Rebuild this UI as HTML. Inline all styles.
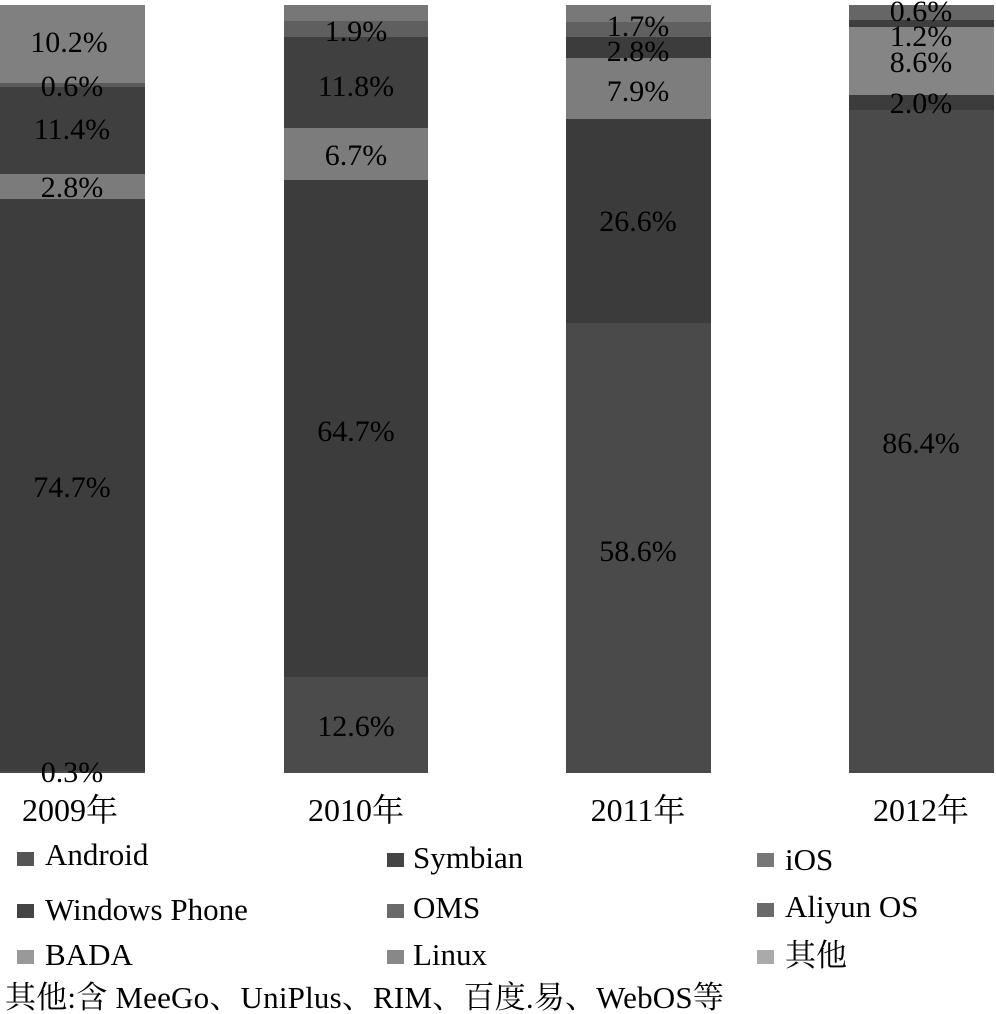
<!DOCTYPE html>
<html><head><meta charset="utf-8"><style>
html,body{margin:0;padding:0;background:#fff;}
#c{position:relative;width:996px;height:1014px;overflow:hidden;background:#fff;font-family:"Liberation Serif","Noto Serif CJK SC","Noto Sans CJK SC",serif;color:#000;}
.s{position:absolute;}
.t{position:absolute;font-size:30px;line-height:30px;white-space:nowrap;text-align:center;width:200px;}
.y{position:absolute;font-size:32px;line-height:32px;white-space:nowrap;text-align:center;width:200px;}
.l{position:absolute;font-size:31px;line-height:31px;white-space:nowrap;}
.q{position:absolute;width:17px;height:14px;}
</style></head><body><div id="c">
<!-- Bar 1 -->
<div class="s" style="left:0;top:5px;width:145px;height:78px;background:#808080"></div>
<div class="s" style="left:0;top:83px;width:145px;height:4px;background:#5a5a5a"></div>
<div class="s" style="left:0;top:87px;width:145px;height:87px;background:#3f3f3f"></div>
<div class="s" style="left:0;top:174px;width:145px;height:25px;background:#7b7b7b"></div>
<div class="s" style="left:0;top:199px;width:145px;height:572px;background:#3d3d3d"></div>
<div class="s" style="left:0;top:771px;width:145px;height:2px;background:#4a4a4a"></div>
<!-- Bar 2 -->
<div class="s" style="left:284px;top:5px;width:144px;height:16px;background:#777"></div>
<div class="s" style="left:284px;top:21px;width:144px;height:16px;background:#5f5f5f"></div>
<div class="s" style="left:284px;top:37px;width:144px;height:91px;background:#404040"></div>
<div class="s" style="left:284px;top:128px;width:144px;height:52px;background:#7c7c7c"></div>
<div class="s" style="left:284px;top:180px;width:144px;height:497px;background:#3c3c3c"></div>
<div class="s" style="left:284px;top:677px;width:144px;height:96px;background:#4b4b4b"></div>
<!-- Bar 3 -->
<div class="s" style="left:566px;top:5px;width:145px;height:17px;background:#787878"></div>
<div class="s" style="left:566px;top:22px;width:145px;height:15px;background:#606060"></div>
<div class="s" style="left:566px;top:37px;width:145px;height:21px;background:#3c3c3c"></div>
<div class="s" style="left:566px;top:58px;width:145px;height:61px;background:#7d7d7d"></div>
<div class="s" style="left:566px;top:119px;width:145px;height:204px;background:#3b3b3b"></div>
<div class="s" style="left:566px;top:323px;width:145px;height:450px;background:#4a4a4a"></div>
<!-- Bar 4 -->
<div class="s" style="left:849px;top:5px;width:145px;height:15px;background:#666"></div>
<div class="s" style="left:849px;top:20px;width:145px;height:7px;background:#3e3e3e"></div>
<div class="s" style="left:849px;top:27px;width:145px;height:68px;background:#858585"></div>
<div class="s" style="left:849px;top:95px;width:145px;height:15px;background:#3c3c3c"></div>
<div class="s" style="left:849px;top:110px;width:145px;height:663px;background:#4a4a4a"></div>

<!-- Bar labels -->
<div class="t" style="left:-31px;top:28px">10.2%</div>
<div class="t" style="left:-28px;top:72px">0.6%</div>
<div class="t" style="left:-28px;top:115px">11.4%</div>
<div class="t" style="left:-28px;top:173px">2.8%</div>
<div class="t" style="left:-28px;top:473px">74.7%</div>
<div class="t" style="left:-28px;top:758px">0.3%</div>

<div class="t" style="left:256px;top:17px">1.9%</div>
<div class="t" style="left:256px;top:72px">11.8%</div>
<div class="t" style="left:256px;top:141px">6.7%</div>
<div class="t" style="left:256px;top:417px">64.7%</div>
<div class="t" style="left:256px;top:712px">12.6%</div>

<div class="t" style="left:538px;top:12px">1.7%</div>
<div class="t" style="left:538px;top:37px">2.8%</div>
<div class="t" style="left:538px;top:77px">7.9%</div>
<div class="t" style="left:538px;top:207px">26.6%</div>
<div class="t" style="left:538px;top:537px">58.6%</div>

<div class="t" style="left:821px;top:-3px">0.6%</div>
<div class="t" style="left:821px;top:22px">1.2%</div>
<div class="t" style="left:821px;top:48px">8.6%</div>
<div class="t" style="left:821px;top:89px">2.0%</div>
<div class="t" style="left:821px;top:429px">86.4%</div>

<!-- Year labels -->
<div class="y" style="left:-30px;top:794px">2009年</div>
<div class="y" style="left:256px;top:794px">2010年</div>
<div class="y" style="left:538px;top:794px">2011年</div>
<div class="y" style="left:821px;top:794px">2012年</div>

<!-- Legend -->
<div class="q" style="left:17px;top:852px;background:#555"></div>
<div class="l" style="left:45px;top:839px">Android</div>
<div class="q" style="left:387px;top:853px;background:#444"></div>
<div class="l" style="left:413px;top:842px">Symbian</div>
<div class="q" style="left:757px;top:853px;background:#777"></div>
<div class="l" style="left:785px;top:844px">iOS</div>

<div class="q" style="left:17px;top:904px;background:#444"></div>
<div class="l" style="left:45px;top:894px">Windows Phone</div>
<div class="q" style="left:387px;top:904px;background:#6a6a6a"></div>
<div class="l" style="left:413px;top:892px">OMS</div>
<div class="q" style="left:757px;top:903px;background:#6a6a6a"></div>
<div class="l" style="left:785px;top:891px">Aliyun OS</div>

<div class="q" style="left:17px;top:950px;background:#999"></div>
<div class="l" style="left:45px;top:939px">BADA</div>
<div class="q" style="left:387px;top:950px;background:#888"></div>
<div class="l" style="left:413px;top:939px">Linux</div>
<div class="q" style="left:757px;top:950px;background:#aaa"></div>
<div class="l" style="left:785px;top:940px">其他</div>

<div class="l" style="left:5px;top:982px;letter-spacing:0.2px">其他:含 MeeGo、UniPlus、RIM、百度.易、WebOS等</div>
</div></body></html>
